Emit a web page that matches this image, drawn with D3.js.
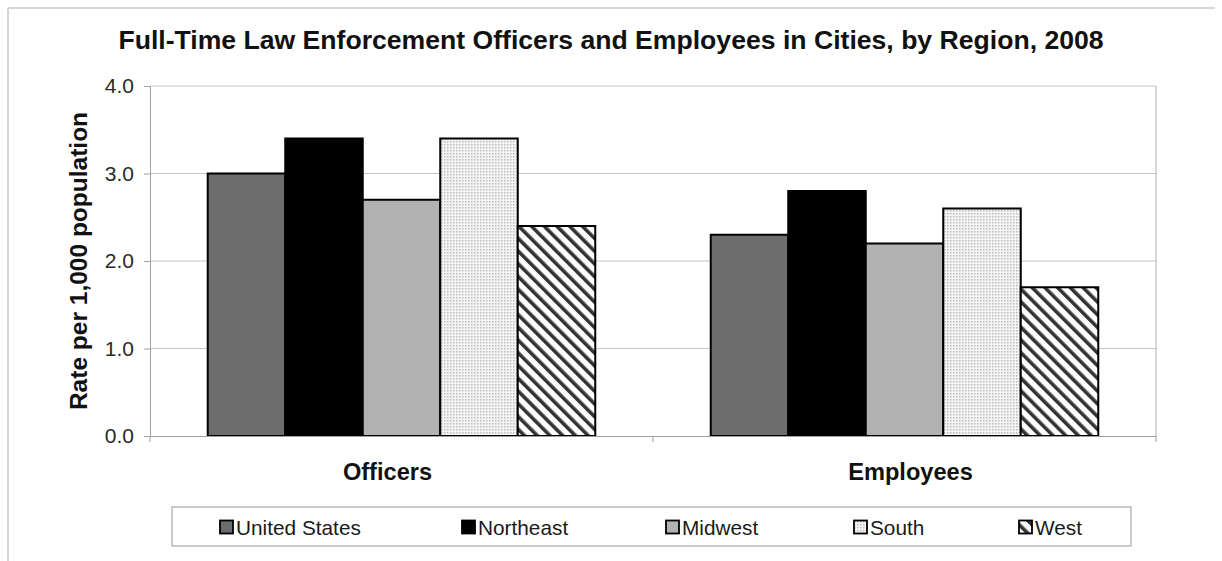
<!DOCTYPE html>
<html>
<head>
<meta charset="utf-8">
<script src="https://cdn.jsdelivr.net/npm/d3@7"></script>
<style>
  body { margin: 0; background: #fff; }
  svg { font-family: "Liberation Sans", Arial, sans-serif; }
</style>
</head>
<body>
<div id="chart"></div>
<script>
// data
const groups = ["Officers", "Employees"];
const regions = ["United States", "Northeast", "Midwest", "South", "West"];
const officers = [3.0, 3.4, 2.7, 3.4, 2.4];
const employees = [2.3, 2.8, 2.2, 2.6, 1.7];
const yTicks = [0, 1, 2, 3, 4];

const w = 1222, h = 561;
const plotL = 150, plotR = 1156, plotT = 86, plotB = 436;

const svg = d3.select("#chart").append("svg")
  .attr("width", w).attr("height", h);

// patterns for South (dots) and West (hatch)
const defs = svg.append("defs");
const dots = defs.append("pattern").attr("id", "dots")
  .attr("patternUnits", "userSpaceOnUse").attr("width", 3).attr("height", 3);
dots.append("rect").attr("width", 3).attr("height", 3).attr("fill", "#f4f4f4");
dots.append("rect").attr("width", 1.5).attr("height", 1.5).attr("fill", "#bdbdbd");

const hatch = defs.append("pattern").attr("id", "hatch")
  .attr("patternUnits", "userSpaceOnUse").attr("width", 9).attr("height", 9)
  .attr("patternTransform", "rotate(-45)");
hatch.append("rect").attr("width", 9).attr("height", 9).attr("fill", "#fff");
hatch.append("rect").attr("width", 3.6).attr("height", 9).attr("fill", "#333");

const fills = ["#6d6d6d", "#000000", "#b2b2b2", "url(#dots)", "url(#hatch)"];
const color = d3.scaleOrdinal().domain(regions).range(fills);

// outer frame (top and left only, like the source)
svg.append("line").attr("x1", 8).attr("x2", 1215).attr("y1", 8).attr("y2", 8)
  .attr("stroke", "#c8c8c8").attr("stroke-width", 1.5);
svg.append("line").attr("x1", 8).attr("x2", 8).attr("y1", 8).attr("y2", h)
  .attr("stroke", "#c8c8c8").attr("stroke-width", 1.5);

// title
svg.append("text").attr("x", 611).attr("y", 49).attr("text-anchor", "middle")
  .style("font-size", "26.6px").style("font-weight", "bold").attr("fill", "#111")
  .text("Full-Time Law Enforcement Officers and Employees in Cities, by Region, 2008");

// scales
const x0 = d3.scaleBand().domain(groups).range([plotL, plotR]);
const x1 = d3.scaleBand().domain(regions).range([0, x0.bandwidth()])
  .paddingInner(0).paddingOuter(0.745);
const y = d3.scaleLinear().domain([0, 4]).range([plotB, plotT]);

// gridlines
svg.append("g").selectAll("line").data(yTicks.slice(1)).enter().append("line")
  .attr("x1", plotL).attr("x2", plotR)
  .attr("y1", d => y(d)).attr("y2", d => y(d))
  .attr("stroke", "#c4c4c4").attr("stroke-width", 1);
// right border of plot
svg.append("line").attr("x1", plotR).attr("x2", plotR).attr("y1", plotT).attr("y2", plotB)
  .attr("stroke", "#b0b0b0");

// bars
const rows = groups.map((g, gi) => ({
  group: g,
  values: regions.map((r, i) => ({ region: r, value: gi === 0 ? officers[i] : employees[i] }))
}));
svg.append("g").selectAll("g").data(rows).enter().append("g")
  .attr("transform", d => `translate(${x0(d.group)},0)`)
  .selectAll("rect").data(d => d.values).enter().append("rect")
  .attr("x", d => x1(d.region))
  .attr("y", d => y(d.value))
  .attr("width", x1.bandwidth())
  .attr("height", d => y(0) - y(d.value))
  .attr("fill", d => color(d.region))
  .attr("stroke", "#000").attr("stroke-width", 2);

// y axis
const yAxis = svg.append("g").attr("transform", `translate(${plotL},0)`)
  .call(d3.axisLeft(y).tickValues(yTicks).tickFormat(d3.format(".1f")).tickSize(6).tickPadding(10));
yAxis.select(".domain").attr("stroke", "#a0a0a0");
yAxis.selectAll(".tick line").attr("stroke", "#a0a0a0");
yAxis.selectAll("text").style("font-size", "21px").attr("fill", "#2a2a2a")
  .style("font-family", "Liberation Sans, Arial, sans-serif");

// x axis
const xAxis = svg.append("g").attr("transform", `translate(0,${plotB})`)
  .call(d3.axisBottom(x0).tickSize(0).tickFormat(""));
xAxis.select(".domain").attr("stroke", "#a0a0a0");
svg.append("g").selectAll("line").data([plotL, plotL + x0.step(), plotR]).enter().append("line")
  .attr("x1", d => d).attr("x2", d => d).attr("y1", plotB).attr("y2", plotB + 6)
  .attr("stroke", "#a0a0a0");
const labelShift = [-14, 6]; // labels sit a little off the group centres in the source
svg.append("g").selectAll("text").data(groups).enter().append("text")
  .attr("x", (d, i) => x0(d) + x0.bandwidth() / 2 + labelShift[i]).attr("y", 480)
  .attr("text-anchor", "middle").style("font-size", "23.6px").style("font-weight", "bold")
  .attr("fill", "#111").text(d => d);

// y title
svg.append("text").attr("transform", `translate(87,${(plotT + plotB) / 2}) rotate(-90)`)
  .attr("text-anchor", "middle").style("font-size", "24.5px").style("font-weight", "bold")
  .attr("fill", "#111").text("Rate per 1,000 population");

// legend
svg.append("rect").attr("x", 172).attr("y", 507).attr("width", 959).attr("height", 39)
  .attr("fill", "#fff").attr("stroke", "#a8a8a8").attr("stroke-width", 1.2);
const legendX = [220, 462, 666, 854, 1019];
const leg = svg.append("g").selectAll("g").data(regions).enter().append("g")
  .attr("transform", (d, i) => `translate(${legendX[i]},527)`);
leg.append("rect").attr("x", 0).attr("y", -6.5).attr("width", 13).attr("height", 13)
  .attr("fill", d => color(d)).attr("stroke", "#000").attr("stroke-width", 1.8);
leg.append("text").attr("x", 16).attr("y", 7.5).style("font-size", "20.8px")
  .attr("fill", "#1a1a1a").text(d => d);
</script>
</body>
</html>
